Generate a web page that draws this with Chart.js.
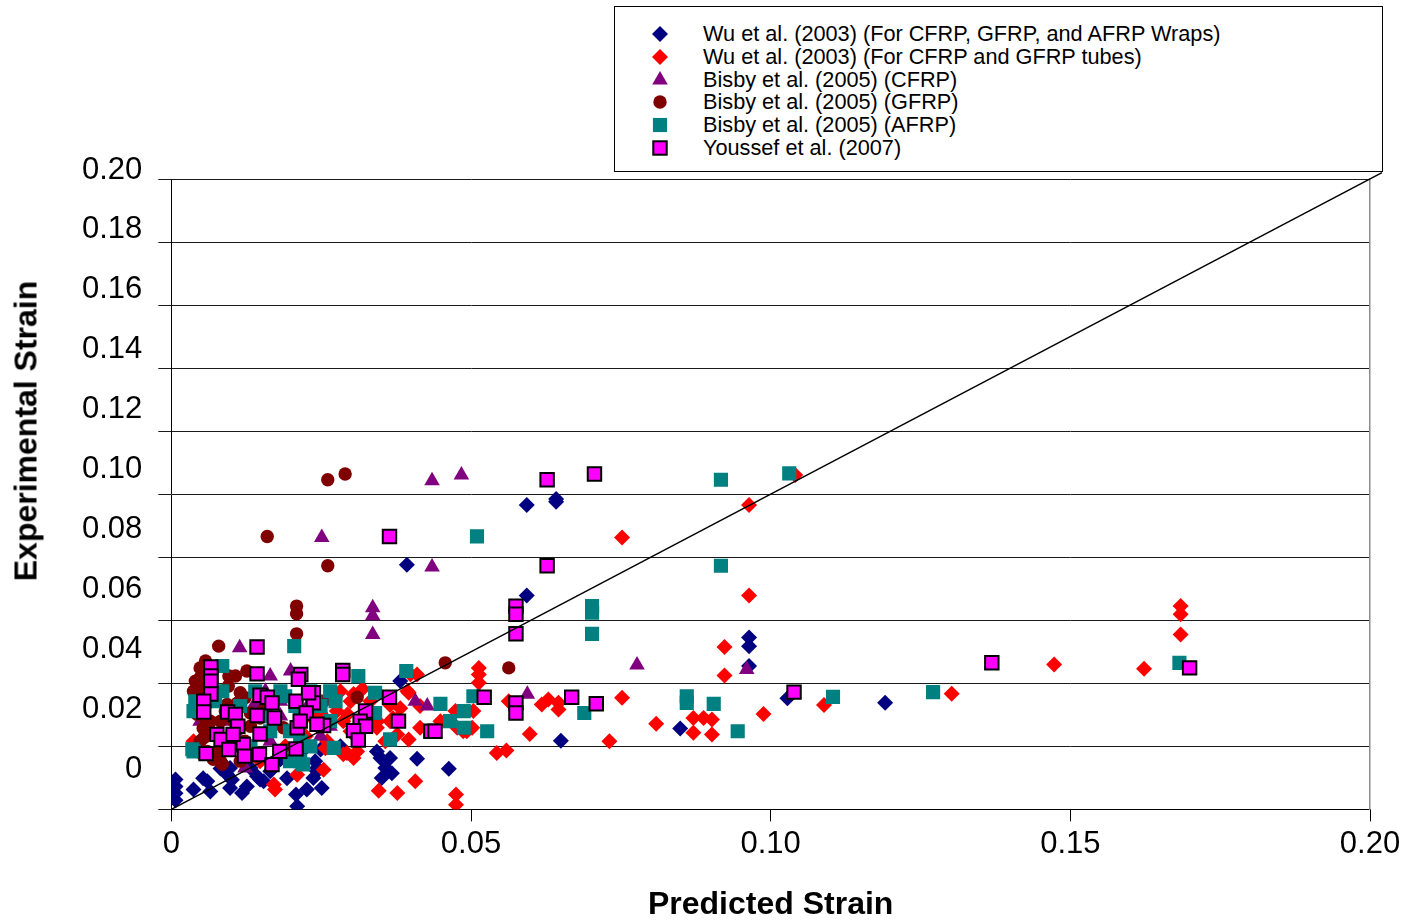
<!DOCTYPE html>
<html lang="en">
<head>
    <meta charset="UTF-8">
    <title>Predicted vs Experimental Strain</title>
    <script src="https://cdn.jsdelivr.net/npm/chart.js@4"></script>
    <style>
        body { margin: 0; background: #fff; font-family: "Liberation Sans", Arial, sans-serif; }
        #wrap { position: relative; width: 1405px; height: 921px; }
        #legend {
            position: absolute; left: 614px; top: 6px; width: 769px; height: 166px;
            box-sizing: border-box; border: 1px solid #000; background: #fff; padding-top: 16px;
        }
        #legend .row { position: relative; height: 22.8px; line-height: 22.8px; font-size: 21.7px; color: #000; }
        #legend svg { position: absolute; left: 34px; top: 0; }
        #legend span { position: absolute; left: 88px; white-space: nowrap; }
        #yTitle {
            position: absolute; left: 26px; top: 431px;
            transform: translate(-50%, -50%) rotate(-90deg);
            font-weight: bold; font-size: 32px; white-space: nowrap; color: #000;
        }
    </style>
</head>
<body>
<div id="wrap">
    <canvas id="strainChart" width="1405" height="921"></canvas>
    <div id="yTitle">Experimental Strain</div>
    <div id="legend"></div>
</div>

<script>
    // [predicted, experimental] pairs for each data source
    const wuWraps = [[0.0593,0.0966],[0.0642,0.0985],[0.0642,0.0976],[0.0393,0.0776],[0.0593,0.0679],[0.0964,0.0545],[0.0964,0.0518],[0.0964,0.0455],[0.1191,0.0338],[0.1028,0.0353],[0.0849,0.0257],[0.0650,0.0218],[0.0382,0.0407],[0.0463,0.0129],[0.0410,0.0161],[0.0343,0.0184],[0.0349,0.0163],[0.0365,0.0163],[0.0357,0.0131],[0.0351,0.0100],[0.0368,0.0115],[0.0249,0.0190],[0.0240,0.0153],[0.0243,0.0121],[0.0251,0.0068],[0.0007,0.0095],[0.0007,0.0073],[0.0007,0.0051],[0.0007,0.0029],[0.0037,0.0063],[0.0060,0.0089],[0.0065,0.0057],[0.0101,0.0094],[0.0098,0.0068],[0.0118,0.0052],[0.0126,0.0073],[0.0143,0.0105],[0.0154,0.0089],[0.0132,0.0131],[0.0098,0.0131],[0.0208,0.0047],[0.0226,0.0063],[0.0210,0.0010],[0.0237,0.0100],[0.0243,0.0131],[0.0082,0.0153],[0.0182,0.0159],[0.0215,0.0178],[0.0282,0.0200],[0.0307,0.0232],[0.0053,0.0099],[0.0093,0.0111],[0.0148,0.0095],[0.0165,0.0121],[0.0193,0.0099],[0.0082,0.0130]];
    const wuTubes = [[0.1041,0.1061],[0.0964,0.0966],[0.0752,0.0863],[0.0964,0.0679],[0.0923,0.0515],[0.0923,0.0425],[0.1684,0.0645],[0.1684,0.0619],[0.1684,0.0555],[0.1473,0.0460],[0.1623,0.0446],[0.1302,0.0367],[0.1089,0.0331],[0.0988,0.0303],[0.0871,0.0290],[0.0888,0.0290],[0.0902,0.0285],[0.0871,0.0243],[0.0902,0.0238],[0.0809,0.0272],[0.0752,0.0354],[0.0731,0.0216],[0.0618,0.0333],[0.0629,0.0349],[0.0646,0.0338],[0.0646,0.0317],[0.0598,0.0239],[0.0563,0.0343],[0.0543,0.0179],[0.0559,0.0187],[0.0513,0.0449],[0.0513,0.0428],[0.0513,0.0402],[0.0504,0.0312],[0.0502,0.0259],[0.0410,0.0428],[0.0396,0.0370],[0.0276,0.0312],[0.0287,0.0280],[0.0299,0.0343],[0.0343,0.0259],[0.0365,0.0280],[0.0376,0.0285],[0.0396,0.0222],[0.0415,0.0259],[0.0477,0.0259],[0.0493,0.0248],[0.0254,0.0126],[0.0293,0.0179],[0.0304,0.0163],[0.0407,0.0089],[0.0346,0.0059],[0.0377,0.0052],[0.0475,0.0047],[0.0475,0.0015],[0.0210,0.0110],[0.0171,0.0079],[0.0173,0.0063],[0.0037,0.0216],[0.0048,0.0178],[0.0148,0.0153],[0.0190,0.0200],[0.0224,0.0232],[0.0249,0.0305],[0.0282,0.0375],[0.0319,0.0382],[0.0365,0.0331],[0.0304,0.0366],[0.0294,0.0302],[0.0299,0.0248],[0.0310,0.0184],[0.0287,0.0175],[0.0370,0.0289],[0.0377,0.0238],[0.0382,0.0321],[0.0344,0.0280],[0.0399,0.0429],[0.0394,0.0375],[0.0487,0.0248],[0.0257,0.0194],[0.0232,0.0296],[0.0215,0.0248],[0.0332,0.0343],[0.0357,0.0216],[0.0415,0.0328],[0.0449,0.0280],[0.0474,0.0312],[0.0260,0.0216]];
    const bisbyCfrp = [[0.0435,0.1043],[0.0484,0.1061],[0.0251,0.0863],[0.0435,0.0769],[0.0336,0.0640],[0.0336,0.0614],[0.0336,0.0555],[0.0777,0.0458],[0.0960,0.0444],[0.0594,0.0365],[0.0114,0.0513],[0.0407,0.0343],[0.0427,0.0328],[0.0165,0.0423],[0.0199,0.0439],[0.0123,0.0131],[0.0048,0.0280],[0.0098,0.0280],[0.0148,0.0328],[0.0182,0.0296],[0.0215,0.0273],[0.0249,0.0232],[0.0265,0.0264],[0.0165,0.0216],[0.0232,0.0343],[0.0157,0.0375],[0.0182,0.0343],[0.0137,0.0328],[0.0107,0.0248]];
    const bisbyGfrp = [[0.0261,0.1046],[0.0290,0.1064],[0.0160,0.0866],[0.0261,0.0773],[0.0209,0.0645],[0.0209,0.0621],[0.0209,0.0557],[0.0079,0.0518],[0.0457,0.0465],[0.0563,0.0449],[0.0310,0.0356],[0.0254,0.0343],[0.0048,0.0449],[0.0048,0.0418],[0.0048,0.0386],[0.0046,0.0354],[0.0057,0.0290],[0.0062,0.0259],[0.0054,0.0227],[0.0076,0.0184],[0.0082,0.0153],[0.0096,0.0423],[0.0107,0.0423],[0.0126,0.0439],[0.0115,0.0370],[0.0123,0.0354],[0.0093,0.0333],[0.0104,0.0280],[0.0065,0.0280],[0.0132,0.0306],[0.0148,0.0290],[0.0187,0.0259],[0.0093,0.0206],[0.0043,0.0302],[0.0053,0.0258],[0.0048,0.0216],[0.0070,0.0159],[0.0085,0.0143],[0.0090,0.0312],[0.0082,0.0280],[0.0073,0.0238],[0.0060,0.0184],[0.0110,0.0337],[0.0037,0.0375],[0.0065,0.0343],[0.0098,0.0200],[0.0115,0.0153],[0.0040,0.0407],[0.0057,0.0471],[0.0132,0.0264],[0.0152,0.0312],[0.0095,0.0391],[0.0123,0.0216]];
    const bisbyAfrp = [[0.0510,0.0866],[0.0917,0.1046],[0.1031,0.1066],[0.0917,0.0773],[0.0702,0.0645],[0.0702,0.0624],[0.0702,0.0557],[0.1682,0.0465],[0.1271,0.0372],[0.1104,0.0357],[0.0860,0.0359],[0.0860,0.0338],[0.0905,0.0335],[0.0945,0.0248],[0.0689,0.0306],[0.0527,0.0248],[0.0504,0.0359],[0.0449,0.0335],[0.0392,0.0439],[0.0340,0.0370],[0.0312,0.0423],[0.0340,0.0306],[0.0274,0.0343],[0.0265,0.0280],[0.0365,0.0222],[0.0465,0.0280],[0.0488,0.0259],[0.0488,0.0312],[0.0271,0.0195],[0.0205,0.0518],[0.0037,0.0184],[0.0040,0.0343],[0.0073,0.0343],[0.0182,0.0375],[0.0207,0.0328],[0.0232,0.0375],[0.0165,0.0248],[0.0215,0.0216],[0.0132,0.0200],[0.0198,0.0153],[0.0249,0.0328],[0.0085,0.0455],[0.0085,0.0375],[0.0037,0.0312],[0.0035,0.0191],[0.0190,0.0359],[0.0215,0.0296],[0.0198,0.0248],[0.0232,0.0200],[0.0215,0.0153],[0.0182,0.0184],[0.0240,0.0343],[0.0157,0.0296],[0.0115,0.0328],[0.0140,0.0375],[0.0265,0.0375],[0.0220,0.0143]];
    const youssef = [[0.0627,0.1046],[0.0706,0.1064],[0.0364,0.0866],[0.0627,0.0773],[0.0575,0.0645],[0.0575,0.0619],[0.0575,0.0557],[0.1369,0.0465],[0.1699,0.0449],[0.1039,0.0372],[0.0709,0.0335],[0.0668,0.0356],[0.0575,0.0338],[0.0575,0.0306],[0.0522,0.0356],[0.0433,0.0248],[0.0440,0.0248],[0.0364,0.0356],[0.0379,0.0280],[0.0286,0.0441],[0.0286,0.0428],[0.0324,0.0312],[0.0315,0.0280],[0.0324,0.0264],[0.0304,0.0250],[0.0312,0.0220],[0.0254,0.0266],[0.0237,0.0370],[0.0237,0.0338],[0.0143,0.0515],[0.0066,0.0452],[0.0066,0.0423],[0.0066,0.0407],[0.0066,0.0366],[0.0054,0.0343],[0.0054,0.0309],[0.0143,0.0430],[0.0216,0.0428],[0.0212,0.0413],[0.0148,0.0362],[0.0160,0.0356],[0.0168,0.0338],[0.0208,0.0343],[0.0229,0.0370],[0.0094,0.0309],[0.0107,0.0301],[0.0143,0.0298],[0.0172,0.0290],[0.0210,0.0259],[0.0225,0.0306],[0.0215,0.0280],[0.0243,0.0270],[0.0111,0.0264],[0.0076,0.0238],[0.0083,0.0222],[0.0148,0.0239],[0.0120,0.0206],[0.0096,0.0190],[0.0122,0.0169],[0.0058,0.0177],[0.0147,0.0174],[0.0181,0.0184],[0.0168,0.0142],[0.0208,0.0192],[0.0103,0.0238]];

    // line of equality, predicted = experimental
    const equalityLine = [0, 0.202];

    const xTicks = [0, 0.05, 0.10, 0.15, 0.20];
    const xTickLabels = ['0', '0.05', '0.10', '0.15', '0.20'];
    const yTicks = [0, 0.02, 0.04, 0.06, 0.08, 0.10, 0.12, 0.14, 0.16, 0.18, 0.20];
    const yTickLabels = ['0', '0.02', '0.04', '0.06', '0.08', '0.10', '0.12', '0.14', '0.16', '0.18', '0.20'];
    // the value labels sit on their own scale, a little above the grid lines
    const yLabelMin = -0.0134;
    const yLabelMax = 0.1970;

    const toPoints = (pairs) => pairs.map(([x, y]) => ({ x, y }));

    const series = [
        { label: 'Wu et al. (2003) (For CFRP, GFRP, and AFRP Wraps)', data: wuWraps, color: '#000080', style: 'rectRot', radius: 8 },
        { label: 'Wu et al. (2003) (For CFRP and GFRP tubes)', data: wuTubes, color: '#ff0000', style: 'rectRot', radius: 8 },
        { label: 'Bisby et al. (2005) (CFRP)', data: bisbyCfrp, color: '#800080', style: 'triangle', radius: 9 },
        { label: 'Bisby et al. (2005) (GFRP)', data: bisbyGfrp, color: '#800000', style: 'circle', radius: 6.7 },
        { label: 'Bisby et al. (2005) (AFRP)', data: bisbyAfrp, color: '#008080', style: 'rect', radius: 10 },
        { label: 'Youssef et al. (2007)', data: youssef, color: '#ff00ff', border: '#000', borderWidth: 2, style: 'rect', radius: 9.5 }
    ];

    // later series are painted over earlier ones
    const datasets = series.map((s, i) => ({
        label: s.label,
        data: toPoints(s.data),
        pointStyle: s.style,
        pointRadius: s.radius,
        pointHoverRadius: s.radius,
        backgroundColor: s.color,
        borderColor: s.border || s.color,
        borderWidth: s.borderWidth || 0,
        order: series.length - i
    }));

    datasets.push({
        type: 'line',
        label: 'Equality',
        data: equalityLine.map(v => ({ x: v, y: v })),
        borderColor: '#000',
        borderWidth: 1.5,
        pointRadius: 0,
        clip: false,
        order: 0
    });

    Chart.defaults.font.family = '"Liberation Sans", Arial, sans-serif';
    Chart.defaults.color = '#000';

    const chart = new Chart(document.getElementById('strainChart'), {
        type: 'scatter',
        data: { datasets },
        options: {
            responsive: false,
            animation: false,
            events: [],
            layout: { padding: { left: 66, right: 35, top: 179, bottom: 0 } },
            plugins: { legend: { display: false }, tooltip: { enabled: false } },
            scales: {
                x: {
                    type: 'linear',
                    position: 'bottom',
                    min: 0,
                    max: 0.2,
                    afterBuildTicks: (axis) => { axis.ticks = xTicks.map(v => ({ value: v })); },
                    ticks: { autoSkip: false, maxRotation: 0, padding: 4, font: { size: 31 }, callback: (v, i) => xTickLabels[i] },
                    grid: { drawOnChartArea: false, drawTicks: true, tickLength: 12, color: '#000' },
                    border: { color: '#000', width: 1 },
                    title: { display: true, text: 'Predicted Strain', font: { size: 32, weight: 'bold' }, padding: { top: 19, bottom: -3 } }
                },
                y: {
                    type: 'linear',
                    position: 'left',
                    weight: 0,
                    min: 0,
                    max: 0.2,
                    afterBuildTicks: (axis) => { axis.ticks = yTicks.map(v => ({ value: v })); },
                    ticks: { display: false },
                    grid: { color: '#1a1a1a', drawTicks: true, tickLength: 13 },
                    border: { color: '#000', width: 1 }
                },
                yLabels: {
                    type: 'linear',
                    position: 'left',
                    weight: 1,
                    min: yLabelMin,
                    max: yLabelMax,
                    afterBuildTicks: (axis) => { axis.ticks = yTicks.map(v => ({ value: v })); },
                    ticks: { autoSkip: false, padding: 16, font: { size: 31 }, callback: (v, i) => yTickLabels[i] },
                    grid: { display: false, drawTicks: false },
                    border: { display: false }
                },
                frameRight: {
                    type: 'linear',
                    position: 'right',
                    min: 0,
                    max: 0.2,
                    ticks: { display: false },
                    grid: { display: false, drawTicks: false },
                    border: { color: '#8c8c8c', width: 1.5 }
                }
            }
        }
    });

    // legend box, one row per data source
    function markerSvg(ds) {
        const c = 11, r = ds.pointRadius;
        const attrs = `fill="${ds.backgroundColor}" stroke="${ds.borderColor}" stroke-width="${ds.borderWidth}"`;
        let shape;
        if (ds.pointStyle === 'rectRot') {
            shape = `<polygon points="${c - r},${c} ${c},${c - r} ${c + r},${c} ${c},${c + r}" ${attrs}/>`;
        } else if (ds.pointStyle === 'triangle') {
            const dx = r * Math.sin(2 * Math.PI / 3), dy = r / 2;
            shape = `<polygon points="${c},${c - r} ${c + dx},${c + dy} ${c - dx},${c + dy}" ${attrs}/>`;
        } else if (ds.pointStyle === 'circle') {
            shape = `<circle cx="${c}" cy="${c}" r="${r}" ${attrs}/>`;
        } else {
            const h = r * Math.SQRT1_2;
            shape = `<rect x="${c - h}" y="${c - h}" width="${2 * h}" height="${2 * h}" ${attrs}/>`;
        }
        return `<svg width="22" height="22" viewBox="0 0 22 22">${shape}</svg>`;
    }

    const legendEl = document.getElementById('legend');
    chart.data.datasets.filter(ds => ds.type !== 'line').forEach(ds => {
        const row = document.createElement('div');
        row.className = 'row';
        row.innerHTML = markerSvg(ds) + `<span>${ds.label}</span>`;
        legendEl.appendChild(row);
    });
</script>
</body>
</html>
